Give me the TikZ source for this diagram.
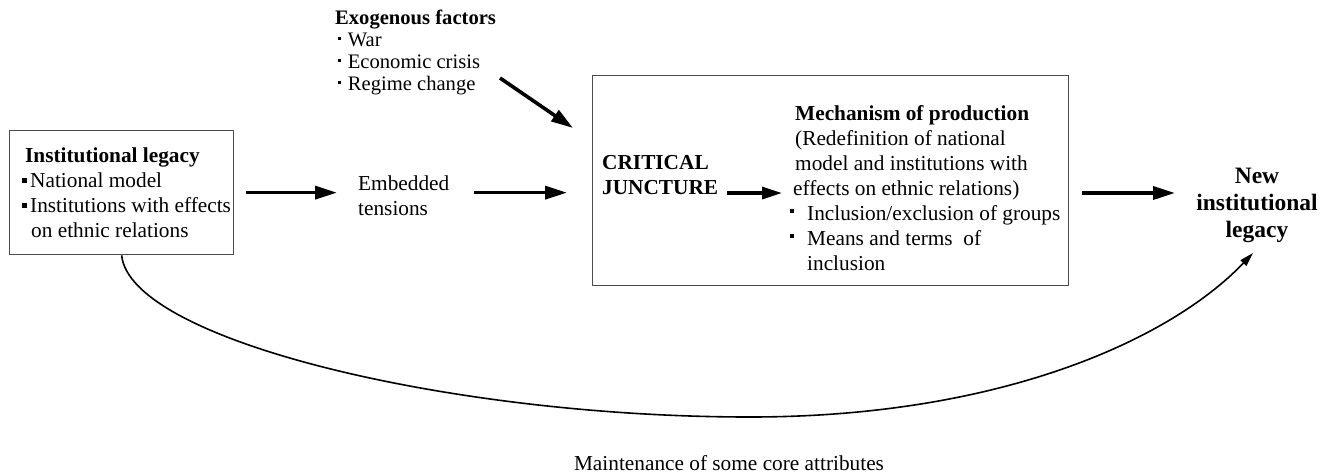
\documentclass[tikz,border=0pt]{standalone}
\usepackage{fontspec}
\setmainfont{Liberation Serif}
\usetikzlibrary{arrows.meta}
\newcommand{\sqb}{\raisebox{0.2em}{\rule{4.5pt}{4.5pt}}}
\newcommand{\sqs}{\raisebox{0.28em}{\rule{3.2pt}{3.2pt}}}
\newcommand{\sqm}{\raisebox{0.35em}{\rule{4pt}{4pt}}}
\tikzset{
  txt/.style={inner sep=0pt, align=left, anchor=base west, font=\fontsize{21.3}{25}\selectfont},
  exotxt/.style={inner sep=0pt, align=left, anchor=base west, font=\fontsize{20.6}{22}\selectfont},
  boxframe/.style={draw=black!70, line width=1.3pt, inner sep=0pt, anchor=north west},
  thickarrow/.style={line width=3.6pt, -{Triangle[length=22pt,width=13pt]}},
  curvearrow/.style={line width=1.6pt, -{Triangle[length=14pt,width=8pt]}}
}
\begin{document}
\begin{tikzpicture}[x=1pt,y=-1pt]
\useasboundingbox[fill=white] (0,0) rectangle (1329,474);
% boxes
\node[boxframe, minimum width=224pt, minimum height=124pt] (legacy) at (9,130) {};
\node[boxframe, minimum width=476pt, minimum height=210pt] (cj) at (592,75) {};
% texts (base anchor = baseline of last line)
\node[txt] (legacytxt) at (22,237) {\hspace{3pt}\textbf{Institutional legacy}\\
\sqb\hspace{3.5pt}National model\\
\sqb\hspace{3.5pt}Institutions with effects\\
\hspace{9pt}on ethnic relations};
\node[exotxt] (exo) at (335,90) {\textbf{Exogenous factors}\\
\hspace{3pt}\sqs\hspace{6.5pt}War\\
\hspace{3pt}\sqs\hspace{6.5pt}Economic crisis\\
\hspace{3pt}\sqs\hspace{6.5pt}Regime change};
\node[txt] (emb) at (358,215) {Embedded\\tensions};
\node[txt] (crit) at (602,194) {\textbf{CRITICAL}\\\textbf{JUNCTURE}};
\node[txt] (mech) at (790,270) {\hspace{5pt}\textbf{Mechanism of production}\\
\hspace{5pt}(Redefinition of national\\
\hspace{5pt}model and institutions with\\
\hspace{3pt}effects on ethnic relations)\\
\sqm\hspace{13pt}Inclusion/exclusion of groups\\
\sqm\hspace{13pt}Means and terms\ \ of\\
\hspace{17pt}inclusion};
\node[inner sep=0pt, align=center, anchor=base, font=\fontsize{23.5}{27}\selectfont\bfseries] (new) at (1257,237) {New\\institutional\\legacy};
\node[inner sep=0pt, anchor=base, font=\fontsize{21.3}{25}\selectfont] (maint) at (729,470) {Maintenance of some core attributes};
% connector end points
\coordinate (exostart) at (500,78);
\coordinate (exoend) at (573,128);
\coordinate (critout) at (727,193);
\coordinate (mechin) at (782,193);
\coordinate (cjout) at (1082,193);
\coordinate (newin) at (1175,193);
\coordinate (newlow) at (1253,253);
% arrows
\draw[thickarrow, shorten <=12pt] (legacy.east) -- ([xshift=-21pt]legacy.east -| emb.west);
\draw[thickarrow] ([xshift=25pt]legacy.east -| emb.east) -- ([xshift=-25pt]legacy.east -| cj.west);
\draw[thickarrow] (exostart) -- (exoend);
\draw[thickarrow, line width=3.2pt, -{Triangle[length=20pt,width=12pt]}] (critout) -- (mechin);
\draw[thickarrow] (cjout) -- (newin);
\draw[curvearrow] (legacy.south) .. controls (130,340) and (450,417) .. (750,417)
  .. controls (1000,417) and (1170,340) .. (newlow);
\end{tikzpicture}
\end{document}
